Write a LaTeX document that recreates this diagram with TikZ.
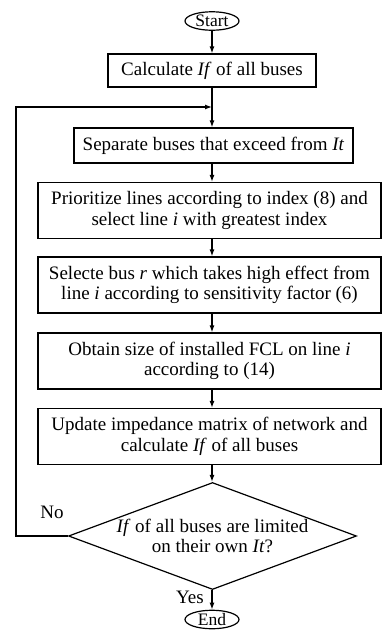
\documentclass[tikz,border=0pt]{standalone}
\usepackage{fontspec}
\setmainfont{Liberation Serif}
\usetikzlibrary{shapes.geometric,arrows.meta}
\begin{document}
\begin{tikzpicture}[x=1pt, y=1pt, ->, >={Latex[length=7pt,width=5pt]}, line width=1.2pt,
    every node/.style={font=\fontsize{19}{20.5}\selectfont},
    term/.style={draw, ellipse, inner xsep=0pt, inner ysep=-3pt, minimum width=54, minimum height=18.5,
                 font=\fontsize{17.5}{18}\selectfont},
    stepbox/.style={draw, rectangle, align=center, inner sep=0pt},
    widebox/.style={stepbox, minimum width=343, minimum height=56},
    test/.style={draw, diamond, aspect=2.7, inner sep=-14pt, align=center,
                 minimum width=288, minimum height=107}]
         \useasboundingbox (0,0) rectangle (382,-630);
         %nodes
         \node[term] at (212,-21) (start) {Start};
         \node[stepbox, minimum width=208, minimum height=33] at (212,-70.5) (calc) {Calculate \textit{If} of all buses};
         \node[stepbox, minimum width=279, minimum height=35] at (213.5,-145.5) (sep) {Separate buses that exceed from \textit{It}};
         \node[widebox] at (209.5,-210.5) (prio) {Prioritize lines according to index (8) and\\ select line \textit{i} with greatest index};
         \node[widebox] at (209.5,-285) (sel) {Selecte bus \textit{r} which takes high effect from\\ line \textit{i} according to sensitivity factor (6)};
         \node[widebox] at (209.5,-361) (fcl) {Obtain size of installed FCL on line \textit{i}\\ according to (14)};
         \node[widebox] at (209.5,-436.5) (upd) {Update impedance matrix of network and\\ calculate \textit{If} of all buses};
         \node[test] at (212.5,-536) (check) {\textit{If} of all buses are limited\\ on their own \textit{It}?};
         \node[term] at (212,-619.5) (end) {End};
         \node at (52,-512) (no) {No};
         \node at (190,-597) (yes) {Yes};
         \coordinate (join) at (212,-107);
         \coordinate (back) at (16,-536);
         % arrows between nodes
         \draw (start) -- (calc); \draw (calc) -- (calc |- sep.north);
         \draw (sep.south -| calc) -- (calc |- prio.north);
         \draw (prio.south -| calc) -- (calc |- sel.north);
         \draw (sel.south -| calc) -- (calc |- fcl.north);
         \draw (fcl.south -| calc) -- (calc |- upd.north);
         \draw (upd.south -| calc) -- (calc |- check.north);
         \draw (check.south -| calc) -- (end);
         \draw (check.west) -- (back) |- (join);
\end{tikzpicture}
\end{document}
